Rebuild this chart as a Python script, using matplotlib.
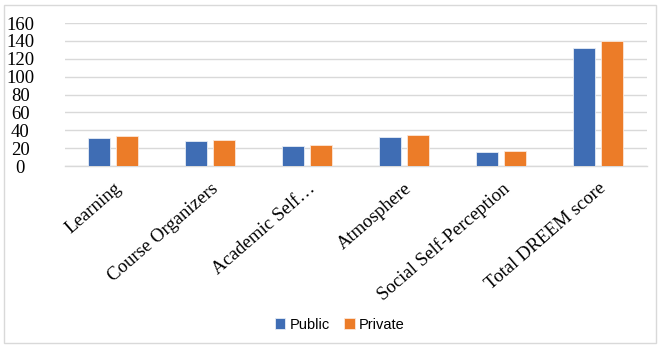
import numpy as np
import matplotlib
matplotlib.use("Agg")
from matplotlib import pyplot as plt
from matplotlib.patches import Rectangle

categories = ["Learning", "Course Organizers", "Academic Self\u2026", "Atmosphere",
              "Social Self-Perception", "Total DREEM score"]
public = [31, 27.6, 22.7, 32.8, 16, 132.3]
private = [33.5, 29.4, 23.5, 34.3, 17.1, 139.5]
yticks = [0, 20, 40, 60, 80, 100, 120, 140, 160]

fig = plt.figure(figsize=(6.6, 3.46), dpi=100)
ax = fig.add_axes([0.098, 0.520, 0.882, 0.4135])

x = np.arange(len(categories))
w = 0.225
ax.bar(x - 0.145, public, w, color="#3F6DB4", edgecolor="#e6ecf5", linewidth=0.6, label="Public", zorder=3)
ax.bar(x + 0.145, private, w, color="#EC7C28", edgecolor="#fbe6d8", linewidth=0.6, label="Private", zorder=3)

ax.set_xlim(-0.5, len(categories) - 0.5)
ax.set_ylim(0, 160)
ax.set_yticks(yticks)
ax.set_yticklabels([str(v) for v in yticks], family="Liberation Serif", fontsize=13.5)
ax.set_xticks(x)
ax.set_xticklabels(categories, rotation=41, ha="right", rotation_mode="anchor",
                   family="Liberation Serif", fontsize=13.5)
ax.tick_params(axis="both", length=0)
ax.tick_params(axis="x", pad=10)
ax.tick_params(axis="y", pad=32)
for lab in ax.get_yticklabels():
    lab.set_horizontalalignment("center")
ax.grid(axis="y", color="#d9d9d9", linewidth=1, zorder=0)
for s in ["top", "right", "left"]:
    ax.spines[s].set_visible(False)
ax.spines["bottom"].set_color("#d9d9d9")
ax.spines["bottom"].set_linewidth(1)

leg = fig.legend(loc="center", bbox_to_anchor=(0.515, 0.062), ncol=2, frameon=False,
                 prop={"family": "Liberation Sans", "size": 10.5},
                 handlelength=0.7, handleheight=0.7, handletextpad=0.3, columnspacing=1.0)

fig.patches.append(Rectangle((0.006, 0.01), 0.988, 0.975, transform=fig.transFigure,
                             fill=False, edgecolor="#d9d9d9", linewidth=1))

fig.savefig("out.png", dpi=100)
plt.close()
